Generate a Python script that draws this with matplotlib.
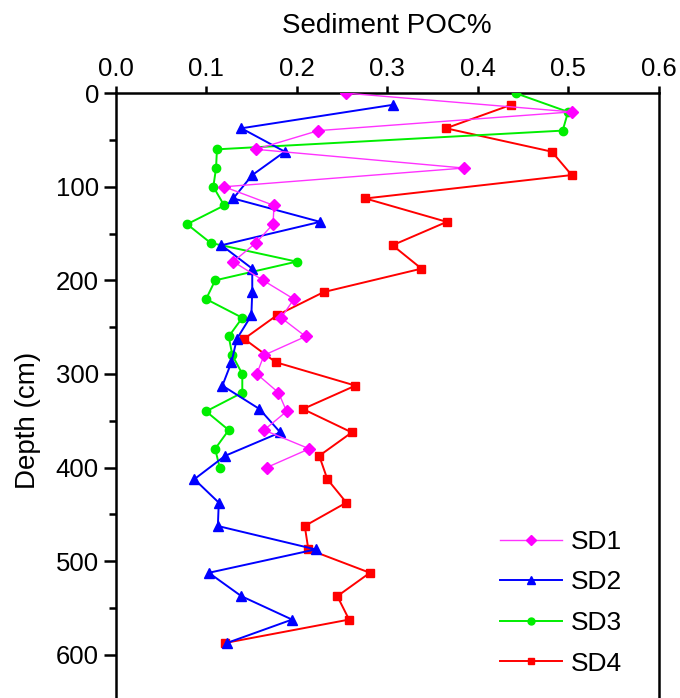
import numpy as np
import matplotlib
matplotlib.use('Agg')
import matplotlib.pyplot as plt
from matplotlib.lines import Line2D
from matplotlib.ticker import MultipleLocator

plt.rcParams['font.family'] = ['Liberation Sans', 'DejaVu Sans']

# depth (cm) for each core
depth_sd1 = [0, 20, 40, 60, 80, 100, 120, 140, 160, 180, 200,
             220, 240, 260, 280, 300, 320, 340, 360, 380, 400]
depth_sd3 = depth_sd1
depth_sd2 = [12.5, 37.5, 62.5, 87.5, 112.5, 137.5, 162.5, 187.5,
             212.5, 237.5, 262.5, 287.5, 312.5, 337.5, 362.5, 387.5,
             412.5, 437.5, 462.5, 487.5, 512.5, 537.5, 562.5, 587.5]
depth_sd4 = depth_sd2

# POC %
poc_sd1 = [0.255, 0.504, 0.224, 0.155, 0.385, 0.120, 0.175, 0.174, 0.155, 0.130, 0.163,
           0.197, 0.183, 0.210, 0.164, 0.156, 0.180, 0.189, 0.164, 0.214, 0.167]
poc_sd2 = [0.306, 0.139, 0.187, 0.151, 0.130, 0.226, 0.117, 0.151,
           0.151, 0.150, 0.134, 0.128, 0.118, 0.159, 0.182, 0.121,
           0.087, 0.114, 0.113, 0.221, 0.103, 0.139, 0.195, 0.123]
poc_sd3 = [0.442, 0.500, 0.494, 0.112, 0.111, 0.108, 0.120, 0.079, 0.105, 0.200, 0.110,
           0.100, 0.140, 0.125, 0.129, 0.140, 0.140, 0.100, 0.125, 0.110, 0.115]
poc_sd4 = [0.437, 0.365, 0.482, 0.504, 0.276, 0.366, 0.306, 0.338,
           0.230, 0.178, 0.142, 0.177, 0.265, 0.207, 0.261, 0.225,
           0.234, 0.255, 0.209, 0.213, 0.281, 0.245, 0.258, 0.121]

fig = plt.figure(figsize=(6.8, 6.98), dpi=100)
ax = fig.add_axes([0.170, -0.072, 0.7985, 0.9385])

ax.plot(poc_sd4, depth_sd4, color='#ff0000', lw=1.4, marker='s', ms=6, zorder=2)
ax.plot(poc_sd3, depth_sd3, color='#00ee00', lw=1.4, marker='o', ms=6, zorder=3)
ax.plot(poc_sd2, depth_sd2, color='#0000ff', lw=1.4, marker='^', ms=7, zorder=4)
ax.plot(poc_sd1, depth_sd1, color='#ff33ff', mfc='#ff00ff', mec='#ff00ff',
        lw=1.0, marker='D', ms=6, zorder=5)

ax.set_xlim(0, 0.6)
ax.set_ylim(700, 0)
ax.xaxis.tick_top()
ax.xaxis.set_label_position('top')
ax.set_xticks(np.arange(0, 0.61, 0.1))
ax.xaxis.set_major_formatter(matplotlib.ticker.FormatStrFormatter('%.1f'))
ax.set_yticks(np.arange(0, 601, 100))
ax.yaxis.set_minor_locator(MultipleLocator(50))

for s in ['top', 'left', 'right']:
    ax.spines[s].set_linewidth(1.8)
ax.spines['bottom'].set_visible(False)

ax.tick_params(axis='x', which='major', direction='out', length=5, width=1.8,
               labelsize=18.5, pad=4)
ax.tick_params(axis='y', which='major', direction='out', length=9, width=1.8,
               labelsize=18.5, pad=3)
ax.tick_params(axis='y', which='minor', direction='out', length=5, width=1.8)

ax.set_xlabel('Sediment POC%', fontsize=20, labelpad=17)
ax.set_ylabel('Depth (cm)', fontsize=20, labelpad=11)

handles = [
    Line2D([], [], color='#ff33ff', lw=1.0, marker='D', ms=5, mfc='#ff00ff', mec='#ff00ff'),
    Line2D([], [], color='#0000ff', lw=1.4, marker='^', ms=6),
    Line2D([], [], color='#00ee00', lw=1.4, marker='o', ms=5),
    Line2D([], [], color='#ff0000', lw=1.4, marker='s', ms=5),
]
fig.legend(handles, ['SD1', 'SD2', 'SD3', 'SD4'], loc='upper left',
           bbox_to_anchor=(0.735, 0.241), frameon=False, fontsize=19,
           handlelength=2.35, handletextpad=0.33, labelspacing=0.63,
           borderpad=0, borderaxespad=0)

fig.savefig('out.png', dpi=100)
